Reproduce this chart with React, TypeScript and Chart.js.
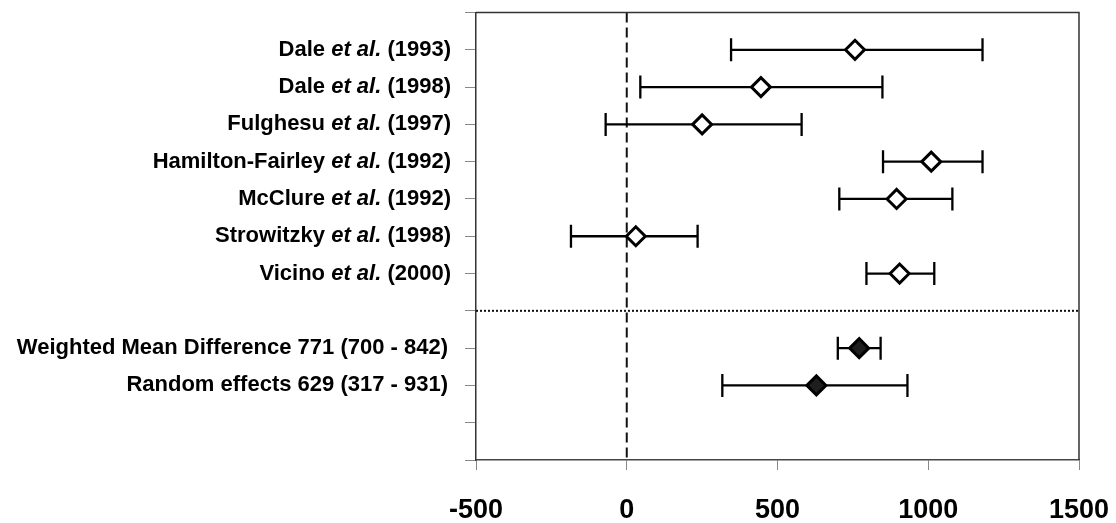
import React, { useEffect, useRef } from "react";
import { Chart, registerables } from "chart.js";

Chart.register(...registerables);

const studyAuthors = ["Dale", "Dale", "Fulghesu", "Hamilton-Fairley", "McClure", "Strowitzky", "Vicino"];
const studyYears = ["(1993)", "(1998)", "(1997)", "(1992)", "(1992)", "(1998)", "(2000)"];
const studyMean = [757, 445, 250, 1010, 895, 30, 905];
const studyLower = [346, 45, -70, 850, 705, -185, 795];
const studyUpper = [1180, 848, 580, 1180, 1080, 235, 1020];
const studyRows = [1, 2, 3, 4, 5, 6, 7];

const summaryLabels = ["Weighted Mean Difference 771 (700 - 842)", "Random effects 629 (317 - 931)"];
const summaryMean = [771, 629];
const summaryLower = [700, 317];
const summaryUpper = [842, 931];
const summaryRows = [9, 10];

const separatorRow = 8;
const xMin = -500;
const xMax = 1500;
const xStep = 500;
const yMin = 0;
const yMax = 12;

const FONT = "'Liberation Sans', Arial, Helvetica, sans-serif";

const forestPlugin = {
  id: "forest",
  beforeDatasetsDraw(chart: any) {
    const { ctx, chartArea: a, scales } = chart;
    const x = scales.x;
    const y = scales.y;
    ctx.save();
    ctx.strokeStyle = "#111";
    ctx.lineWidth = 2;
    ctx.setLineDash([2, 2]);
    const ys = y.getPixelForValue(separatorRow);
    ctx.beginPath();
    ctx.moveTo(a.left, ys);
    ctx.lineTo(a.right, ys);
    ctx.stroke();
    ctx.setLineDash([10, 5]);
    const x0 = x.getPixelForValue(0);
    ctx.beginPath();
    ctx.moveTo(x0, a.top);
    ctx.lineTo(x0, a.bottom);
    ctx.stroke();
    ctx.setLineDash([]);
    ctx.lineWidth = 2.3;
    ctx.strokeStyle = "#000";
    const cap = 11.5;
    const drawBar = (lo: number, hi: number, row: number) => {
      const py = y.getPixelForValue(row);
      const pl = x.getPixelForValue(lo);
      const ph = x.getPixelForValue(hi);
      ctx.beginPath();
      ctx.moveTo(pl, py);
      ctx.lineTo(ph, py);
      ctx.moveTo(pl, py - cap);
      ctx.lineTo(pl, py + cap);
      ctx.moveTo(ph, py - cap);
      ctx.lineTo(ph, py + cap);
      ctx.stroke();
    };
    studyRows.forEach((r, i) => drawBar(studyLower[i], studyUpper[i], r));
    summaryRows.forEach((r, i) => drawBar(summaryLower[i], summaryUpper[i], r));
    ctx.restore();
  },
  afterDraw(chart: any) {
    const { ctx, chartArea: a, scales } = chart;
    const y = scales.y;
    ctx.save();
    ctx.strokeStyle = "#333";
    ctx.lineWidth = 1.5;
    ctx.beginPath();
    ctx.moveTo(a.left, a.top);
    ctx.lineTo(a.right, a.top);
    ctx.lineTo(a.right, a.bottom);
    ctx.stroke();
    const size = 22;
    const bold = `bold ${size}px ${FONT}`;
    const boldItalic = `italic bold ${size}px ${FONT}`;
    const rightX = 451;
    ctx.fillStyle = "#000";
    ctx.textBaseline = "middle";
    ctx.textAlign = "left";
    studyRows.forEach((r, i) => {
      const py = y.getPixelForValue(r);
      const parts: [string, string][] = [
        [studyAuthors[i] + " ", bold],
        ["et al.", boldItalic],
        [" " + studyYears[i], bold],
      ];
      let total = 0;
      const widths = parts.map(([t, f]) => {
        ctx.font = f;
        const w = ctx.measureText(t).width;
        total += w;
        return w;
      });
      let cx = rightX - total;
      parts.forEach(([t, f], k) => {
        ctx.font = f;
        ctx.fillText(t, cx, py);
        cx += widths[k];
      });
    });
    ctx.font = bold;
    ctx.textAlign = "right";
    summaryRows.forEach((r, i) => {
      const py = y.getPixelForValue(r);
      ctx.fillText(summaryLabels[i], rightX - 3, py);
    });
    ctx.restore();
  },
};

export default function App() {
  const ref = useRef<HTMLCanvasElement>(null);
  useEffect(() => {
    if (!ref.current) return;
    const chart = new Chart(ref.current, {
      type: "scatter",
      data: {
        datasets: [
          {
            label: "Studies",
            data: studyRows.map((r, i) => ({ x: studyMean[i], y: r })),
            pointStyle: "rectRot",
            pointRadius: 9.5,
            pointHoverRadius: 9.5,
            borderWidth: 3,
            borderColor: "#000",
            backgroundColor: "#fff",
          },
          {
            label: "Summary",
            data: summaryRows.map((r, i) => ({ x: summaryMean[i], y: r })),
            pointStyle: "rectRot",
            pointRadius: 9.5,
            pointHoverRadius: 9.5,
            borderWidth: 3,
            borderColor: "#000",
            backgroundColor: "#1e1e1e",
          },
        ],
      },
      options: {
        animation: false,
        responsive: false,
        layout: { padding: { left: 0, top: 4, right: 37, bottom: 0 } },
        plugins: { legend: { display: false }, tooltip: { enabled: false } },
        scales: {
          x: {
            type: "linear",
            min: xMin,
            max: xMax,
            ticks: {
              stepSize: xStep,
              color: "#000",
              font: { family: FONT, size: 27, weight: "bold" },
              padding: 24,
              callback: (v: any) => String(v),
            },
            grid: { drawOnChartArea: false, drawTicks: true, tickLength: 10, color: "#888" },
            border: { display: true, color: "#444", width: 1.5 },
            afterFit: (s: any) => {
              s.height = 63;
              s.paddingLeft = 0;
              s.paddingRight = 0;
            },
          },
          y: {
            type: "linear",
            min: yMin,
            max: yMax,
            reverse: true,
            ticks: { stepSize: 1, callback: () => "", padding: 0 },
            grid: { drawOnChartArea: false, drawTicks: true, tickLength: 11, color: "#888" },
            border: { display: true, color: "#333", width: 1.5 },
            afterFit: (s: any) => {
              s.width = 476;
              s.paddingTop = 0;
              s.paddingBottom = 0;
            },
          },
        },
      },
      plugins: [forestPlugin],
    });
    return () => chart.destroy();
  }, []);
  return (
    <canvas
      ref={ref}
      width={1116}
      height={523}
      style={{ position: "fixed", left: 0, top: 0, display: "block", background: "#fff" }}
    />
  );
}
